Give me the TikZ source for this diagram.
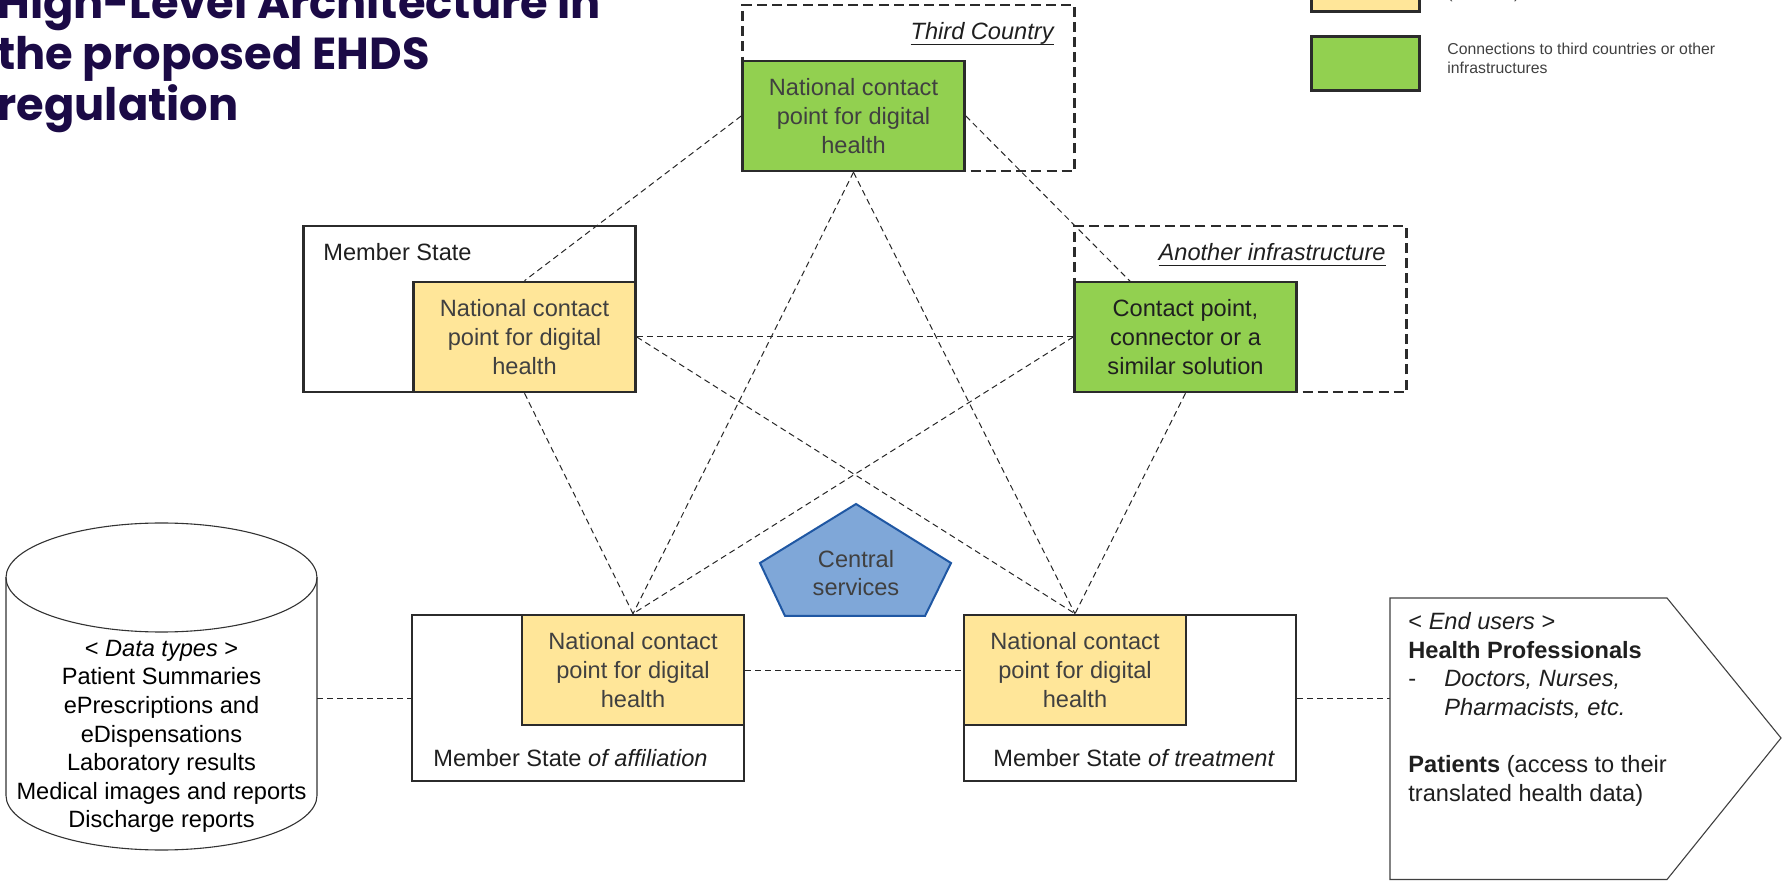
\documentclass[tikz,border=0pt]{standalone}
\usepackage{fontspec}
\setmainfont{Liberation Sans}
\newfontfamily\titlefont{Poppins}
\usetikzlibrary{backgrounds}

\definecolor{ncpyellow}{HTML}{FFE699}
\definecolor{extgreen}{HTML}{92D050}
\definecolor{csfill}{HTML}{7FA7D8}
\definecolor{csdraw}{HTML}{1F57A3}
\definecolor{boxline}{HTML}{2B2B2B}
\definecolor{softtext}{HTML}{404040}
\definecolor{darktext}{HTML}{1F1F1F}
\definecolor{titleink}{HTML}{1B0A46}

\newlength\ulwidth
\newcommand\ulined[1]{\settowidth\ulwidth{#1}\rlap{#1}\rule[-2.6pt]{\ulwidth}{0.6pt}}
\newcommand\bodysize{\fontsize{11.8pt}{14.3pt}\selectfont}
\newcommand\keysize{\fontsize{7.9pt}{9.5pt}\selectfont}

\begin{document}
\begin{tikzpicture}[x=0.5pt,y=-0.5pt,
  area/.style={draw=boxline, line width=1.3pt, minimum width=166pt, minimum height=83pt, inner sep=0pt},
  dasharea/.style={area, dash pattern=on 5pt off 2.6pt},
  ncp/.style={draw=boxline, line width=1.3pt, fill=ncpyellow, minimum width=111pt, minimum height=55pt,
              inner sep=0pt, align=center, font=\bodysize, text=softtext},
  extpoint/.style={ncp, fill=extgreen},
  keybox/.style={draw=boxline, line width=1.3pt, minimum width=54pt, minimum height=27pt, inner sep=0pt},
  lbl/.style={inner sep=0pt, font=\bodysize, text=darktext},
  link/.style={draw=black!85, line width=0.5pt, dash pattern=on 3pt off 2pt},
  outline/.style={draw=black!80, line width=0.55pt}
]
\useasboundingbox (0,0) rectangle (1783,881);
\clip (0,0) rectangle (1783,881);

% title
\node[anchor=north west, inner sep=0pt, align=left, text=titleink,
      font=\titlefont\bfseries\fontsize{22.4pt}{25.5pt}\selectfont] (title) at (-3,-18)
  {High-Level Architecture in\\the proposed EHDS\\regulation};

% legend
\node[keybox, fill=ncpyellow, anchor=south west] (keyncp) at (1310,13) {};
\node[keybox, fill=extgreen, anchor=north west] (keyext) at (1310,35) {};
\node[lbl, font=\keysize, text=softtext, anchor=base west] (keyncptxt) at (1447,-1.5) {(NCPeHs)};
\node[lbl, font=\keysize, text=softtext, anchor=west, align=left] (keyexttxt) at (1447,58)
  {Connections to third countries or other\\infrastructures};

% third country
\node[dasharea] (tcarea) at (908.5,88) {};
\node[extpoint, anchor=south west] (tc) at (tcarea.south west) {National contact\\point for digital\\health};
\node[lbl, font=\bodysize\itshape, anchor=base east] (tclbl) at (1054,40) {\ulined{Third Country}};

% member state
\node[area] (msarea) at (469.5,309) {};
\node[ncp, anchor=south east] (ms) at (msarea.south east) {National contact\\point for digital\\health};
\node[lbl, anchor=base west] (mslbl) at (323,261) {Member State};

% another infrastructure
\node[dasharea] (aiarea) at (1240.5,309) {};
\node[extpoint, text=darktext, anchor=south west] (ai) at (aiarea.south west) {Contact point,\\connector or a\\similar solution};
\node[lbl, font=\bodysize\itshape, anchor=base east] (ailbl) at (1386,261) {\ulined{Another infrastructure}};

% member state of affiliation
\node[area] (afarea) at (578,698) {};
\node[ncp, anchor=north east] (af) at (afarea.north east) {National contact\\point for digital\\health};
\node[lbl, anchor=base west] (aflbl) at (433,766) {Member State \textit{of affiliation}};

% member state of treatment
\node[area] (trarea) at (1130,698) {};
\node[ncp, anchor=north west] (tr) at (trarea.north west) {National contact\\point for digital\\health};
\node[lbl, anchor=base west] (trlbl) at (993,766) {Member State \textit{of treatment}};

% central services
\filldraw[fill=csfill, draw=csdraw, line width=1pt]
  (856,504) -- (951,563) -- (925,616) -- (785,616) -- (760,563) -- cycle;
\node[lbl, text=softtext, align=center] (central) at (856,573) {Central\\services};

% data types store
\draw[outline] (6,577.5) -- (6,795.5)
  arc[start angle=180, end angle=360, x radius=77.75pt, y radius=27.25pt] -- (317,577.5);
\draw[outline] (161.5,577.5) ellipse[x radius=77.75pt, y radius=27.25pt];
\node[lbl, text=black, align=center] (datatypes) at (161.5,736.5)
  {\textless\ \textit{Data types} \textgreater\\Patient Summaries\\ePrescriptions and\\eDispensations\\Laboratory results\\Medical images and reports\\Discharge reports};
\coordinate (datatypes-e) at (317,698);

% end users
\draw[outline, draw=softtext] (1390,598) -- (1667,598) -- (1781,738) -- (1667,879.5) -- (1390,879.5) -- cycle;
\coordinate (users-w) at (1390,698);
\node[lbl, anchor=north west, align=left] (users) at (1408,612)
  {\textless\ \textit{End users} \textgreater\\
   \textbf{Health Professionals}\\
   \makebox[18pt][l]{-}\textit{Doctors, Nurses,}\\
   \hspace*{18pt}\textit{Pharmacists, etc.}\\
   \mbox{}\\
   \textbf{Patients} (access to their\\
   translated health data)};

% connections
\begin{scope}[on background layer]
  \draw[link] (tc.west) -- (ms.north);
  \draw[link] (tc.east) -- (ai.center);
  \draw[link] (tc.south) -- (af.north);
  \draw[link] (tc.south) -- (tr.north);
  \draw[link] (ms.east) -- (ai.west);
  \draw[link] (ms.east) -- (tr.north);
  \draw[link] (ms.south) -- (af.north);
  \draw[link] (ai.west) -- (af.north);
  \draw[link] (ai.south) -- (tr.north);
  \draw[link] (af.east) -- (tr.west);
  \draw[link] (datatypes-e) -- (afarea.west);
  \draw[link] (trarea.east) -- (users-w);
\end{scope}
\end{tikzpicture}
\end{document}
